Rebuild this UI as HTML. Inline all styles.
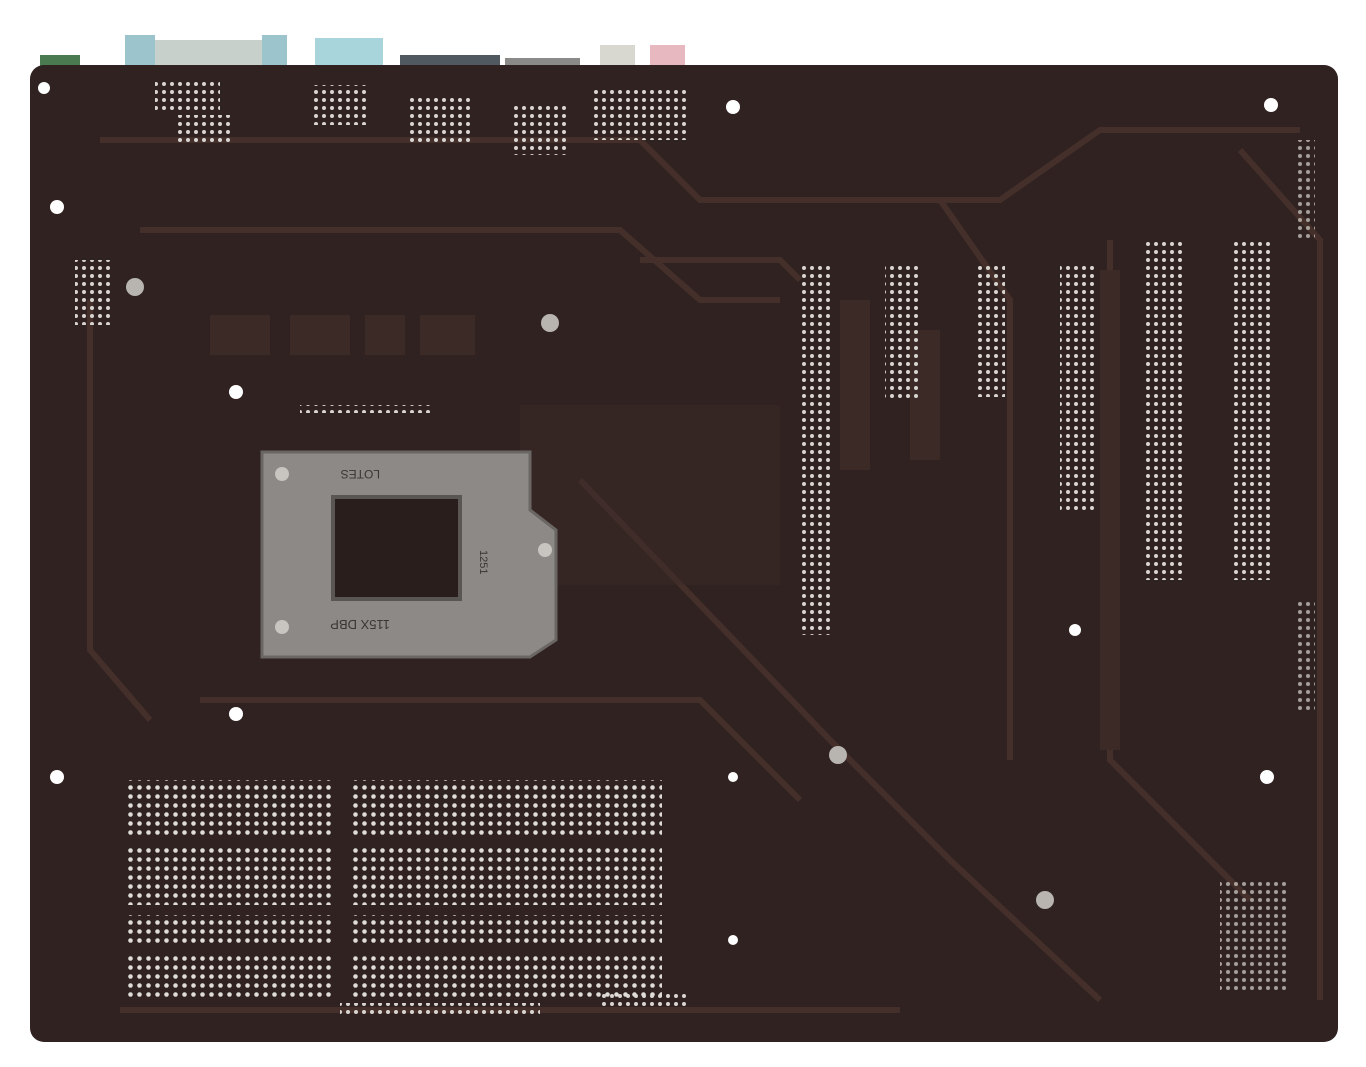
<!DOCTYPE html>
<html><head><meta charset="utf-8"><style>
html,body{margin:0;padding:0;background:#fff;width:1366px;height:1067px;overflow:hidden}
</style></head><body>
<svg width="1366" height="1067" viewBox="0 0 1366 1067" xmlns="http://www.w3.org/2000/svg">
<defs>
<pattern id="dots" width="8" height="8" patternUnits="userSpaceOnUse"><circle cx="4" cy="4" r="2" fill="#d8d4d0"/></pattern>
<pattern id="dots2" width="9" height="9" patternUnits="userSpaceOnUse"><circle cx="4.5" cy="4.5" r="2.3" fill="#e0dcd8"/></pattern>
</defs>
<rect x="125" y="35" width="30" height="35" fill="#9cc4cc"/>
<rect x="155" y="40" width="110" height="30" fill="#c8d0cc"/>
<rect x="262" y="35" width="25" height="35" fill="#9cc4cc"/>
<rect x="315" y="38" width="68" height="32" fill="#a8d4dc"/>
<rect x="400" y="55" width="100" height="15" fill="#505860"/>
<rect x="505" y="58" width="75" height="12" fill="#8a8a88"/>
<rect x="600" y="45" width="35" height="25" fill="#d8d8d0"/>
<rect x="650" y="45" width="35" height="25" fill="#e8b8c0"/>
<rect x="40" y="55" width="40" height="15" fill="#4a7a50"/>
<rect x="30" y="65" width="1308" height="977" rx="14" fill="#2f2220"/>
<g fill="none" stroke="#452f2a" stroke-width="6">
<path d="M100 140 H640 L700 200 H1000 L1100 130 H1300"/>
<path d="M140 230 H620 L700 300 H780"/>
<path d="M90 300 V650 L150 720"/>
<path d="M580 480 L830 740 L950 860 L1100 1000"/>
<path d="M940 200 L1010 300 V760"/>
<path d="M1110 240 V760 L1250 900"/>
<path d="M640 260 H780 L800 280"/>
<path d="M200 700 H700 L800 800"/>
<path d="M120 1010 H900"/>
<path d="M1240 150 L1320 240 V1000"/>
</g>
<g fill="#3b2a26">
<rect x="210" y="315" width="60" height="40"/><rect x="290" y="315" width="60" height="40"/>
<rect x="365" y="315" width="40" height="40"/><rect x="420" y="315" width="55" height="40"/>
<rect x="520" y="405" width="260" height="180" opacity="0.5"/>
<rect x="840" y="300" width="30" height="170"/><rect x="910" y="330" width="30" height="130"/>
<rect x="1100" y="270" width="20" height="480"/>
</g>
<rect x="800" y="262" width="30" height="373" fill="url(#dots)"/>
<rect x="885" y="262" width="36" height="140" fill="url(#dots)"/>
<rect x="975" y="262" width="30" height="135" fill="url(#dots)"/>
<rect x="1060" y="262" width="34" height="250" fill="url(#dots)"/>
<rect x="1142" y="240" width="42" height="340" fill="url(#dots)"/>
<rect x="1232" y="240" width="42" height="340" fill="url(#dots)"/>
<rect x="155" y="80" width="65" height="30" fill="url(#dots)"/>
<rect x="175" y="115" width="55" height="30" fill="url(#dots)"/>
<rect x="310" y="85" width="60" height="40" fill="url(#dots)"/>
<rect x="410" y="95" width="60" height="50" fill="url(#dots)"/>
<rect x="510" y="105" width="60" height="50" fill="url(#dots)"/>
<rect x="590" y="90" width="100" height="50" fill="url(#dots)"/>
<rect x="75" y="260" width="35" height="65" fill="url(#dots)"/>
<rect x="300" y="405" width="130" height="8" fill="url(#dots)"/>
<rect x="600" y="990" width="90" height="16" fill="url(#dots)"/>
<rect x="1220" y="880" width="70" height="110" fill="url(#dots)" opacity="0.7"/>
<rect x="1295" y="140" width="20" height="100" fill="url(#dots)" opacity="0.7"/>
<rect x="1295" y="600" width="20" height="110" fill="url(#dots)" opacity="0.7"/>
<g fill="url(#dots2)">
<rect x="128" y="780" width="207" height="55"/><rect x="350" y="780" width="312" height="55"/>
<rect x="128" y="845" width="207" height="60"/><rect x="350" y="845" width="312" height="60"/>
<rect x="128" y="915" width="207" height="30"/><rect x="350" y="915" width="312" height="30"/>
<rect x="128" y="955" width="207" height="45"/><rect x="350" y="955" width="312" height="45"/>
</g>
<rect x="340" y="1003" width="200" height="12" fill="url(#dots)"/>
<path d="M262 452 H530 V510 L556 530 V640 L530 657 H262 Z" fill="#8d8987" stroke="#6a6664" stroke-width="3"/>
<rect x="333" y="497" width="127" height="102" fill="#2a1e1c" stroke="#5a5654" stroke-width="4"/>
<circle cx="282" cy="474" r="7" fill="#c8c4c0"/><circle cx="282" cy="627" r="7" fill="#c8c4c0"/>
<circle cx="545" cy="550" r="7" fill="#c8c4c0"/>
<text x="380" y="478" font-family="Liberation Sans, sans-serif" font-size="12" fill="#3a3634" transform="rotate(180 380 474)">LOTES</text>
<text x="390" y="628" font-family="Liberation Sans, sans-serif" font-size="13" fill="#3a3634" transform="rotate(180 390 624)">115X DBP</text>
<text x="480" y="550" font-family="Liberation Sans, sans-serif" font-size="11" fill="#3a3634" transform="rotate(90 480 550)">1251</text>
<g fill="#ffffff">
<circle cx="57" cy="207" r="7"/><circle cx="236" cy="392" r="7"/><circle cx="236" cy="714" r="7"/>
<circle cx="57" cy="777" r="7"/><circle cx="733" cy="107" r="7"/><circle cx="1271" cy="105" r="7"/>
<circle cx="1267" cy="777" r="7"/><circle cx="1075" cy="630" r="6"/><circle cx="44" cy="88" r="6"/>
<circle cx="733" cy="777" r="5"/><circle cx="733" cy="940" r="5"/>
</g>
<g fill="#b8b4b0">
<circle cx="135" cy="287" r="9"/><circle cx="550" cy="323" r="9"/><circle cx="838" cy="755" r="9"/><circle cx="1045" cy="900" r="9"/>
</g>
</svg>
</body></html>
